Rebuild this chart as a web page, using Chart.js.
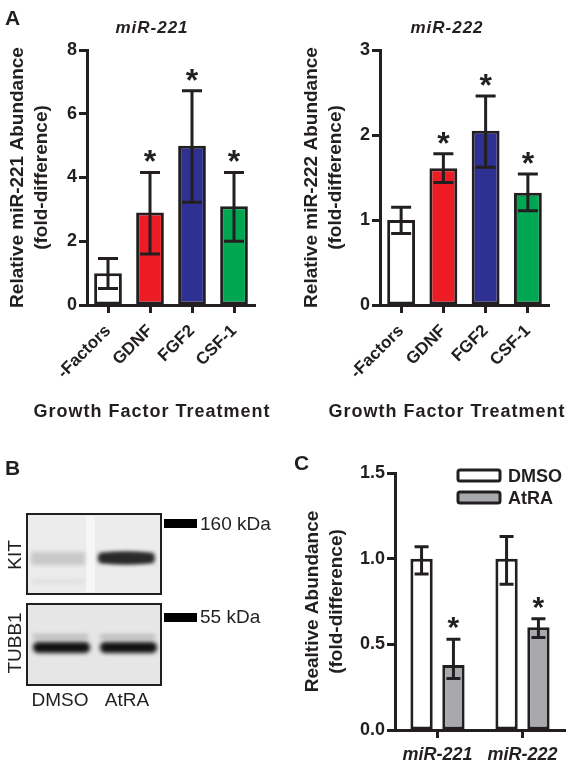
<!DOCTYPE html>
<html>
<head>
<meta charset="utf-8">
<script src="https://cdn.jsdelivr.net/npm/chart.js@4.4.1/dist/chart.umd.min.js"></script>
<style>
  body { margin: 0; background: #fff; width: 574px; height: 764px; position: relative; overflow: hidden; }
  canvas { position: absolute; }
</style>
</head>
<body>
<canvas id="chart221" width="290" height="430" style="left:0;top:0"></canvas>
<canvas id="chart222" width="284" height="430" style="left:290px;top:0"></canvas>
<canvas id="blot" width="280" height="334" style="left:0;top:430px"></canvas>
<canvas id="chartAtra" width="294" height="334" style="left:280px;top:430px"></canvas>
<script>
// Panel A: growth factor treatment
const growthFactors = ["-Factors", "GDNF", "FGF2", "CSF-1"];
const miR221Mean = [1.0, 2.9, 5.0, 3.1];
const miR221Low = [0.52, 1.6, 3.22, 2.0];
const miR221High = [1.46, 4.16, 6.72, 4.16];
const miR222Mean = [1.0, 1.61, 2.05, 1.32];
const miR222Low = [0.84, 1.44, 1.62, 1.11];
const miR222High = [1.15, 1.78, 2.46, 1.54];
const factorSig = [false, true, true, true];

// Panel C: DMSO vs AtRA
const mirNames = ["miR-221", "miR-222"];
const dmsoMean = [1.0, 1.0];
const dmsoLow = [0.91, 0.85];
const dmsoHigh = [1.07, 1.13];
const dmsoSig = [false, false];
const atraMean = [0.38, 0.60];
const atraLow = [0.30, 0.54];
const atraHigh = [0.53, 0.65];
const atraSig = [true, true];

const ink = "#231f20";
const family = "'Liberation Sans', Arial, sans-serif";
const factorColors = ["#ffffff", "#ed1c24", "#2e3192", "#00a651"];

// error bars + significance stars, read from each dataset
const errorBars = {
  id: "errorBars",
  afterDatasetsDraw(chart, args, opts) {
    const ctx = chart.ctx;
    const y = chart.scales.y;
    chart.data.datasets.forEach((ds, i) => {
      chart.getDatasetMeta(i).data.forEach((bar, j) => {
        const lo = y.getPixelForValue(ds.errLow[j]);
        const hi = y.getPixelForValue(ds.errHigh[j]);
        ctx.save();
        ctx.strokeStyle = ink;
        ctx.lineWidth = 3;
        ctx.beginPath();
        ctx.moveTo(bar.x, lo);
        ctx.lineTo(bar.x, hi);
        ctx.moveTo(bar.x - opts.cap, hi);
        ctx.lineTo(bar.x + opts.cap, hi);
        ctx.moveTo(bar.x - opts.cap, lo);
        ctx.lineTo(bar.x + opts.cap, lo);
        ctx.stroke();
        if (ds.stars[j]) {
          ctx.fillStyle = ink;
          ctx.font = "bold " + opts.starSize + "px " + family;
          ctx.textAlign = "center";
          ctx.textBaseline = "alphabetic";
          const m = ctx.measureText("*");
          ctx.fillText("*", bar.x, hi - opts.gap - m.actualBoundingBoxDescent);
        }
        ctx.restore();
      });
    });
  }
};

// free text: panel letters, titles, axis captions
const annot = {
  id: "annot",
  afterDraw(chart, args, opts) {
    const ctx = chart.ctx;
    (opts.items || []).forEach(it => {
      ctx.save();
      ctx.fillStyle = ink;
      ctx.font = it.font + " " + family;
      ctx.letterSpacing = it.spacing || "0px";
      ctx.textAlign = it.align || "center";
      ctx.textBaseline = "alphabetic";
      ctx.fillText(it.text, it.x, it.y);
      ctx.restore();
    });
  }
};

// legend boxes for panel C
const boxLegend = {
  id: "boxLegend",
  afterDraw(chart, args, opts) {
    const ctx = chart.ctx;
    chart.data.datasets.forEach((ds, i) => {
      const top = opts.y + i * opts.step;
      ctx.save();
      ctx.fillStyle = ds.backgroundColor;
      ctx.strokeStyle = ink;
      ctx.lineWidth = 3;
      ctx.beginPath();
      ctx.roundRect(opts.x, top, opts.w, opts.h, 2);
      ctx.fill();
      ctx.stroke();
      ctx.fillStyle = ink;
      ctx.font = "bold 18px " + family;
      ctx.textBaseline = "alphabetic";
      ctx.fillText(ds.label, opts.x + opts.w + 8, top + opts.h + 1);
      ctx.restore();
    });
  }
};

function axisStyle() {
  return {
    grid: { display: true, drawOnChartArea: false, offset: false, tickLength: 8, tickWidth: 3, color: ink },
    border: { color: ink, width: 3 }
  };
}

function factorChart(id, mean, low, high, max, yTitle, title, opts) {
  return new Chart(document.getElementById(id), {
    type: "bar",
    data: {
      labels: growthFactors,
      datasets: [{
        data: mean,
        errLow: low,
        errHigh: high,
        stars: factorSig,
        backgroundColor: factorColors,
        borderColor: ink,
        borderWidth: 3,
        borderSkipped: false,
        barPercentage: 0.66,
        categoryPercentage: 1
      }]
    },
    options: {
      responsive: false,
      animation: false,
      layout: { padding: { left: 0, top: 50, right: opts.right, bottom: 0 } },
      plugins: {
        legend: { display: false },
        tooltip: { enabled: false },
        errorBars: { cap: 10, gap: 10, starSize: 32 },
        annot: { items: [
          { text: title, x: opts.mid, y: 33, font: "italic bold 17px", spacing: "1px" },
          { text: "Growth Factor Treatment", x: opts.mid, y: 417, font: "bold 18px", spacing: "1px" }
        ].concat(opts.extra || []) }
      },
      scales: {
        x: {
          ...axisStyle(),
          ticks: { autoSkip: false, minRotation: 45, maxRotation: 45, color: ink, padding: 8,
                   font: { family, weight: "bold", size: 17 } },
          afterFit: s => { s.height = 125; }
        },
        y: {
          ...axisStyle(),
          min: 0,
          max: max,
          ticks: { stepSize: max === 8 ? 2 : 1, color: ink, padding: 2, font: { family, weight: "bold", size: 18 } },
          title: { display: true, text: yTitle, color: ink, padding: { top: opts.titlePad, bottom: 0 },
                   font: { family, weight: "bold", size: 19, lineHeight: 1.26 } },
          afterFit: s => { s.width = opts.axisX; }
        }
      }
    },
    plugins: [errorBars, annot]
  });
}

factorChart("chart221", miR221Mean, miR221Low, miR221High, 8,
  ["Relative miR-221 Abundance", "(fold-difference)"], "miR-221",
  { right: 35, axisX: 87, titlePad: 6, mid: 152,
    extra: [{ text: "A", x: 5, y: 25, font: "bold 21px", align: "left" }] });

factorChart("chart222", miR222Mean, miR222Low, miR222High, 3,
  ["Relative miR-222 Abundance", "(fold-difference)"], "miR-222",
  { right: 25, axisX: 90, titlePad: 10, mid: 157 });

// Panel C
new Chart(document.getElementById("chartAtra"), {
  type: "bar",
  data: {
    labels: mirNames,
    datasets: [
      { label: "DMSO", data: dmsoMean, errLow: dmsoLow, errHigh: dmsoHigh, stars: dmsoSig,
        backgroundColor: "#ffffff", borderColor: ink, borderWidth: 3, borderSkipped: false,
        barPercentage: 0.7, categoryPercentage: 0.75 },
      { label: "AtRA", data: atraMean, errLow: atraLow, errHigh: atraHigh, stars: atraSig,
        backgroundColor: "#a7a9ac", borderColor: ink, borderWidth: 3, borderSkipped: false,
        barPercentage: 0.7, categoryPercentage: 0.75 }
    ]
  },
  options: {
    responsive: false,
    animation: false,
    layout: { padding: { left: 0, top: 43, right: 9, bottom: 0 } },
    plugins: {
      legend: { display: false },
      tooltip: { enabled: false },
      errorBars: { cap: 7, gap: 10, starSize: 30 },
      boxLegend: { x: 178, y: 40, step: 22, w: 42, h: 11 },
      annot: { items: [{ text: "C", x: 14, y: 40, font: "bold 21px", align: "left" }] }
    },
    scales: {
      x: {
        ...axisStyle(),
        ticks: { maxRotation: 0, color: ink, padding: 6, font: { family, weight: "bold", style: "italic", size: 18 } },
        afterFit: s => { s.height = 34; }
      },
      y: {
        ...axisStyle(),
        min: 0,
        max: 1.5,
        ticks: { stepSize: 0.5, color: ink, padding: 2, font: { family, weight: "bold", size: 18 },
                 callback: v => v.toFixed(1) },
        title: { display: true, text: ["Realtive Abundance", "(fold-difference)"], color: ink,
                 padding: { top: 21, bottom: 0 }, font: { family, weight: "bold", size: 19, lineHeight: 1.26 } },
        afterFit: s => { s.width = 115; }
      }
    }
  },
  plugins: [errorBars, annot, boxLegend]
});

// Panel B: western blot picture
function drawBlot() {
  const ctx = document.getElementById("blot").getContext("2d");
  ctx.fillStyle = ink;
  ctx.font = "bold 21px " + family;
  ctx.fillText("B", 5, 45);

  // membranes
  ctx.fillStyle = "#ececec";
  ctx.fillRect(27, 84, 134, 80);
  ctx.fillStyle = "#e6e6e6";
  ctx.fillRect(27, 174, 134, 81);
  ctx.fillStyle = "#f6f6f6";
  ctx.fillRect(86, 86, 9, 76);

  ctx.save();
  ctx.filter = "blur(2px)";
  // KIT bands
  ctx.fillStyle = "rgba(120,120,120,0.3)";
  ctx.fillRect(31, 122, 54, 13);
  ctx.fillStyle = "rgba(150,150,150,0.2)";
  ctx.fillRect(32, 150, 52, 3);
  ctx.fillStyle = "#2a2a2a";
  ctx.beginPath();
  ctx.ellipse(126, 128, 28, 6, 0, 0, Math.PI * 2);
  ctx.fill();
  ctx.fillRect(99, 123, 55, 10);
  // TUBB1 bands
  ctx.fillStyle = "rgba(90,90,90,0.45)";
  ctx.fillRect(33, 205, 55, 3);
  ctx.fillRect(100, 205, 55, 3);
  ctx.fillStyle = "#111";
  ctx.beginPath();
  ctx.roundRect(33, 212, 57, 11, 5);
  ctx.roundRect(100, 212, 57, 11, 5);
  ctx.fill();
  ctx.restore();

  ctx.strokeStyle = ink;
  ctx.lineWidth = 2;
  ctx.strokeRect(27, 84, 134, 80);
  ctx.strokeRect(27, 174, 134, 81);

  // size markers
  ctx.fillStyle = "#000";
  ctx.fillRect(164, 89, 33, 9);
  ctx.fillRect(164, 183, 33, 9);
  ctx.fillStyle = ink;
  ctx.font = "19px " + family;
  ctx.fillText("160 kDa", 200, 100);
  ctx.fillText("55 kDa", 200, 193);
  ctx.textAlign = "center";
  ctx.fillText("DMSO", 60, 276);
  ctx.fillText("AtRA", 127, 276);

  ctx.save();
  ctx.translate(21, 125);
  ctx.rotate(-Math.PI / 2);
  ctx.fillText("KIT", 0, 0);
  ctx.restore();
  ctx.save();
  ctx.translate(21, 213);
  ctx.rotate(-Math.PI / 2);
  ctx.fillText("TUBB1", 0, 0);
  ctx.restore();
}
drawBlot();
</script>
</body>
</html>
